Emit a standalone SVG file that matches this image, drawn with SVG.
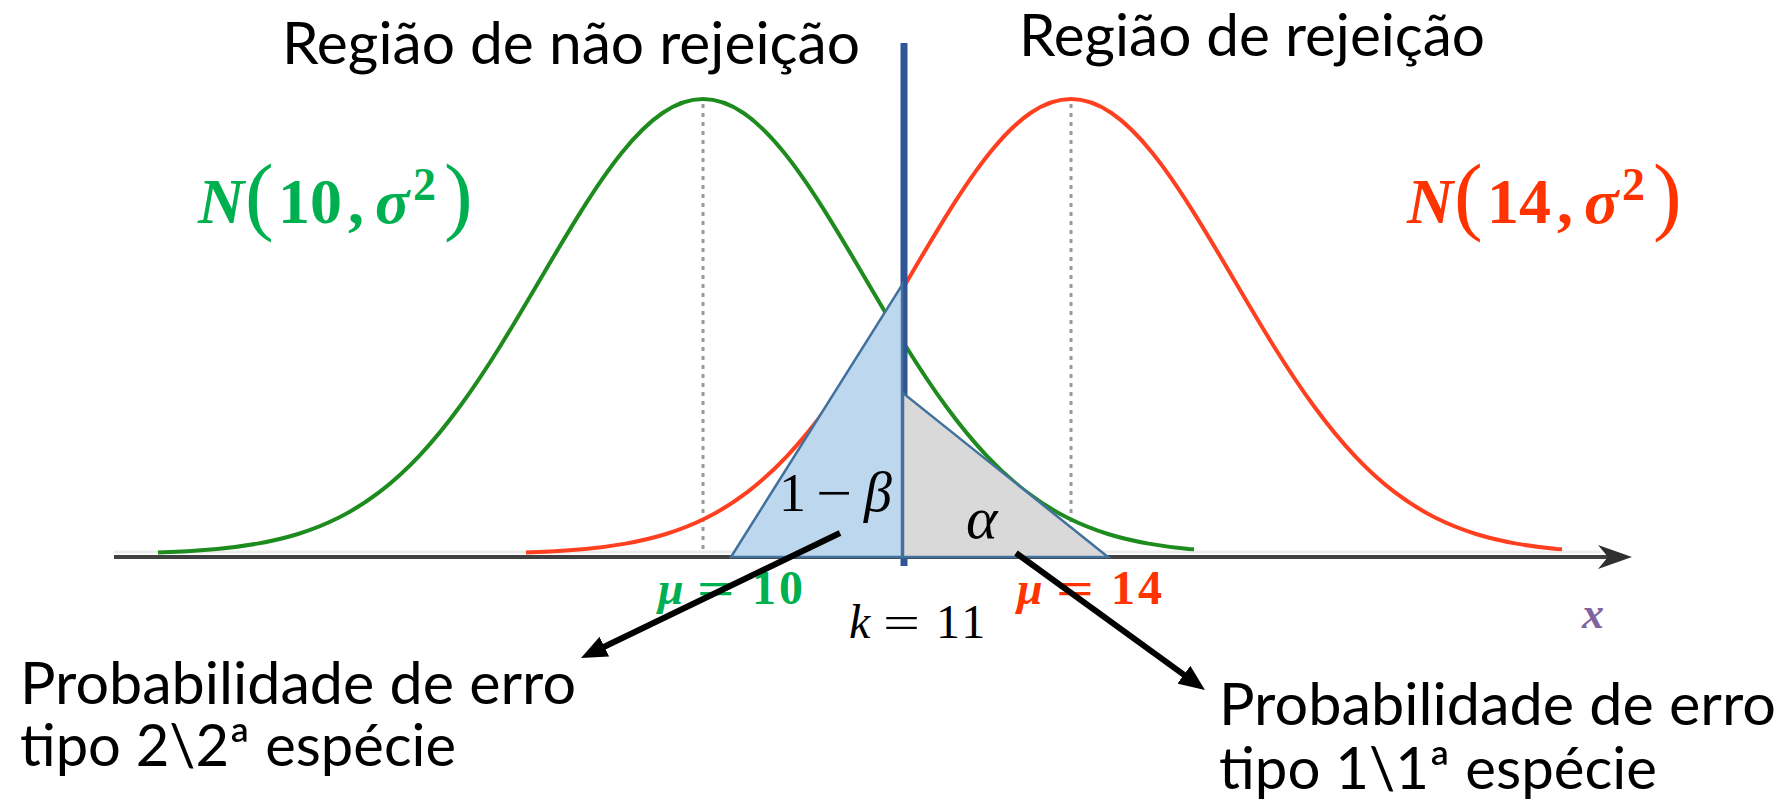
<svg xmlns="http://www.w3.org/2000/svg" xmlns:xlink="http://www.w3.org/1999/xlink" width="1784" height="806" viewBox="0 0 1784 806">
<style>
.t{font-family:"Lato","Liberation Sans",sans-serif;font-size:58px;fill:#000}
.m{font-family:"Liberation Serif","DejaVu Serif",serif}
.b{font-weight:bold}
.i{font-style:italic}
.g{fill:#00B050}
.r{fill:#FF3300}
.curve{fill:none;stroke-width:4;stroke-linejoin:round}
.dot{stroke:#9A9A9A;stroke-width:3;stroke-dasharray:4 5;fill:none}
.tri{stroke:#41719C;stroke-width:2.5;stroke-linejoin:miter}
.arr{stroke:#000;stroke-width:6;fill:none}
</style>
<defs>
<path id="gauss" d="M-545,552.5 L-526.5,551.7 C-513,551.07 -499.5,550.21 -486,548.95 C-472.5,547.69 -459,545.98 -445.5,543.6 C-432,541.22 -418.5,538.16 -405,534 C-391.5,529.84 -378,524.59 -364.5,517.8 C-351,511.01 -337.5,502.66 -324,492.4 C-310.5,482.14 -297,469.95 -283.5,455.6 C-270,441.25 -256.5,424.77 -243,406.3 C-229.5,387.83 -216,367.4 -202.5,345.7 C-189,324 -175.5,301 -162,278 C-148.5,255 -135,232.07 -121.5,210.6 C-108,189.13 -94.5,169.23 -81,152.5 C-67.5,135.77 -54,122.19 -40.5,113 C-27,103.81 -13.5,99 0,99 C13.5,99 27,103.81 40.5,113 C54,122.19 67.5,135.77 81,152.5 C94.5,169.23 108,189.13 121.5,210.6 C135,232.07 148.5,255 162,278 C175.5,301 189,324 202.5,345.7 C216,367.4 229.5,387.83 243,406.3 C256.5,424.77 270,441.25 283.5,455.6 C297,469.95 310.5,482.14 324,492.4 C337.5,502.66 351,511.01 364.5,517.8 C378,524.59 391.5,529.84 405,534 C418.5,538.16 432,541.22 445.5,543.6 C459,545.98 472.5,547.69 486,548.95 L491,549.2"/>
<marker id="ah" markerUnits="userSpaceOnUse" markerWidth="26" markerHeight="22" viewBox="0 0 26 22" refX="10" refY="11" orient="auto">
<path d="M0,0 L26,11 L0,22 z" fill="#000"/>
</marker>
</defs>
<rect width="1784" height="806" fill="#fff"/>

<g id="axis">
<line x1="114" y1="552" x2="1600" y2="552" stroke="#ECECEC" stroke-width="3"/>
<line x1="114" y1="557" x2="1610" y2="557" stroke="#404040" stroke-width="4"/>
<polygon points="1632,557 1598,545 1608,557 1598,569" fill="#303030"/>
<text class="m b i" x="1582" y="628" font-size="44" fill="#8064A2">x</text>
</g>

<g id="mean-lines">
<line class="dot" x1="703" y1="104" x2="703" y2="554"/>
<line class="dot" x1="1071" y1="104" x2="1071" y2="554"/>
</g>

<g id="curve-h0">
<use xlink:href="#gauss" href="#gauss" transform="translate(703,0)" class="curve" stroke="#1E8B1E"/>
</g>
<g id="curve-h1">
<use xlink:href="#gauss" href="#gauss" transform="translate(1071,0)" class="curve" stroke="#FF4020"/>
</g>

<g id="critical-line">
<line x1="904" y1="43" x2="904" y2="566" stroke="#2F5597" stroke-width="7"/>
</g>

<g id="power-area">
<polygon class="tri" points="731,557 902,285 902,557" fill="#BDD7EE"/>
<text class="m" x="779" y="511" font-size="54">1</text>
<text class="m" x="816" y="511" font-size="54" textLength="36" lengthAdjust="spacingAndGlyphs">−</text>
<text class="m i" x="864" y="511" font-size="56">β</text>
</g>

<g id="alpha-area">
<polygon class="tri" points="903,393 903,557 1108,557" fill="#D9D9D9"/>
<text class="m i" x="966" y="538" font-size="60">α</text>
</g>

<g id="title-left">
<text class="t" x="282" y="64" textLength="578" lengthAdjust="spacingAndGlyphs">Região de não rejeição</text>
</g>
<g id="title-right">
<text class="t" x="1019" y="56" textLength="466" lengthAdjust="spacingAndGlyphs">Região de rejeição</text>
</g>

<g id="dist-h0">
<text class="m b i g" x="198" y="223" font-size="64">N</text>
<text class="m g" x="245" y="224" font-size="86">(</text>
<text class="m b g" x="278" y="223" font-size="64">10</text>
<text class="m b g" x="348" y="223" font-size="64">,</text>
<text class="m b i g" x="375" y="223" font-size="64">σ</text>
<text class="m b g" x="413" y="200" font-size="46">2</text>
<text class="m g" x="444" y="224" font-size="86">)</text>
</g>

<g id="dist-h1">
<text class="m b i r" x="1407" y="223" font-size="64">N</text>
<text class="m r" x="1454" y="224" font-size="86">(</text>
<text class="m b r" x="1487" y="223" font-size="64">14</text>
<text class="m b r" x="1557" y="223" font-size="64">,</text>
<text class="m b i r" x="1584" y="223" font-size="64">σ</text>
<text class="m b r" x="1622" y="200" font-size="46">2</text>
<text class="m r" x="1653" y="224" font-size="86">)</text>
</g>

<g id="mu0">
<text class="m b i g" x="658" y="604" font-size="46">μ</text>
<text class="m b g" x="697" y="604" font-size="46" textLength="38" lengthAdjust="spacingAndGlyphs">=</text>
<text class="m b g" x="752" y="604" font-size="48" letter-spacing="3">10</text>
</g>
<g id="mu1">
<text class="m b i r" x="1017" y="604" font-size="46">μ</text>
<text class="m b r" x="1056" y="604" font-size="46" textLength="38" lengthAdjust="spacingAndGlyphs">=</text>
<text class="m b r" x="1111" y="604" font-size="48" letter-spacing="3">14</text>
</g>
<g id="k-label">
<text class="m i" x="849" y="638" font-size="48">k</text>
<text class="m" x="883" y="638" font-size="46" textLength="37" lengthAdjust="spacingAndGlyphs">=</text>
<text class="m" x="936" y="638" font-size="48" letter-spacing="3">11</text>
</g>

<g id="label-type2">
<text class="t" x="20" y="704"><tspan x="20" y="704" textLength="556" lengthAdjust="spacingAndGlyphs">Probabilidade de erro</tspan><tspan x="20" y="766" textLength="436" lengthAdjust="spacingAndGlyphs">tipo 2\2ª espécie</tspan></text>
</g>
<g id="label-type1">
<text class="t" x="1219" y="725"><tspan x="1219" y="725" textLength="557" lengthAdjust="spacingAndGlyphs">Probabilidade de erro</tspan><tspan x="1219" y="789" textLength="438" lengthAdjust="spacingAndGlyphs">tipo 1\1ª espécie</tspan></text>
</g>

<g id="connectors">
<line class="arr" x1="840" y1="533" x2="595.4" y2="651" marker-end="url(#ah)"/>
<line class="arr" x1="1016" y1="553" x2="1192" y2="680.6" marker-end="url(#ah)"/>
</g>
</svg>
